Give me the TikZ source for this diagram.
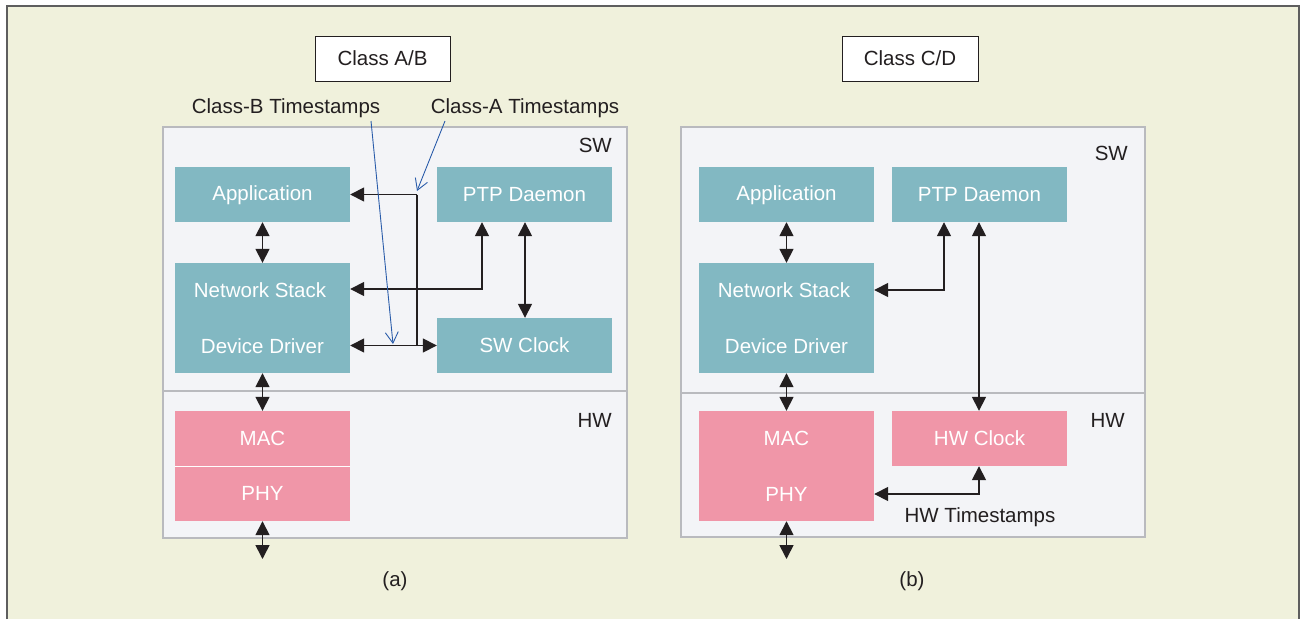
\documentclass[tikz,border=0pt]{standalone}
\usepackage{fontspec}
\setmainfont{Liberation Sans}
\usetikzlibrary{arrows.meta}
\definecolor{bgc}{HTML}{F0F1DC}
\definecolor{framec}{HTML}{5E5E5E}
\definecolor{panelc}{HTML}{F3F4F7}
\definecolor{panelb}{HTML}{B9BABE}
\definecolor{tealc}{HTML}{82B8C2}
\definecolor{pinkc}{HTML}{F096A8}
\definecolor{linec}{HTML}{231F20}
\definecolor{bluec}{HTML}{2A5CAA}
\tikzset{
  txt/.style={font=\fontsize{20.5}{24}\selectfont, text=linec, inner sep=0pt},
  wtxt/.style={font=\fontsize{20.5}{24}\selectfont, text=white, inner sep=0pt},
  panel/.style={draw=panelb, line width=1.6pt, fill=panelc},
  sbox/.style={fill=tealc, draw=none, inner sep=0pt},
  hbox/.style={fill=pinkc, draw=none, inner sep=0pt},
  classbox/.style={draw=linec, line width=1pt, fill=white, inner sep=0pt},
  tip/.tip={Triangle[length=14pt,width=14pt]},
  arr/.style={draw=linec, line width=1.6pt, arrows={tip-tip}},
  arrr/.style={draw=linec, line width=1.6pt, arrows={-tip}},
  plain/.style={draw=linec, line width=1.6pt},
  barrow/.style={draw=bluec, line width=0.9pt, arrows={-Straight Barb[length=11pt,width=13pt]}},
}
\begin{document}
\begin{tikzpicture}[x=1pt,y=-1pt]
\useasboundingbox (0,0) rectangle (1302,619);
% outer frame
\fill[white] (0,0) rectangle (1302,619);
\fill[bgc] (7,6) rectangle (1299,619);
\draw[framec, line width=2pt] (7,619) -- (7,6) -- (1299,6) -- (1299,619);

% ---------------- panel (a) ----------------
\draw[panel] (163,127) rectangle (627,391);
\draw[panel] (163,391) rectangle (627,538);
\node[txt, anchor=east] (swa) at (612,145) {SW};
\node[txt, anchor=east] (hwa) at (612,420) {HW};

\node[classbox, minimum width=135pt, minimum height=45pt] (clab) at (382.5,58.5) {};
\node[txt] (clabt) at (clab.center) {Class A/B};

\node[sbox, minimum width=175pt, minimum height=55pt] (appa) at (262.5,194.5) {};
\node[wtxt] (appat) at (262.5,195.5) {Application};
\node[sbox, minimum width=175pt, minimum height=55pt] (ptpa) at (524.5,194.5) {};
\node[wtxt] (ptpat) at (ptpa.center) {PTP Daemon};
\node[sbox, minimum width=175pt, minimum height=110pt] (nsa) at (262.5,318) {};
\node[wtxt] (nsat) at (260,290) {Network Stack};
\node[wtxt] (ddat) at (262.5,346) {Device Driver};
\node[sbox, minimum width=175pt, minimum height=55pt] (clka) at (524.5,345.5) {};
\node[wtxt] (clkat) at (clka.center) {SW Clock};
\node[hbox, minimum width=175pt, minimum height=55pt] (maca) at (262.5,438.5) {};
\node[wtxt] (macat) at (maca.center) {MAC};
\node[hbox, minimum width=175pt, minimum height=55pt] (phya) at (262.5,493.5) {};
\node[wtxt] (phyat) at (phya.center) {PHY};
\draw[white, line width=1pt] (maca.south west) -- (maca.south east);
\coordinate (outa) at (262.5,559);

\draw[arr] (appa.south) -- (nsa.north);
\draw[arr] (nsa.south) -- (maca.north);
\draw[arr] (phya.south) -- (outa);
\draw[arr] (ptpa.south -| 525,0) -- (clka.north -| 525,0);
\draw[arr] (ptpa.south -| 482,0) |- (nsa.east |- 0,289);
\coordinate (ja) at (417,194.5);
\coordinate (jb) at (417,345.5);
\draw[arrr] (ja) -- (appa.east);
\draw[plain] (ja) -- (jb);
\draw[arr] (nsa.east |- clka.west) -- (clka.west);

\node[txt] (cbt) at (286,108) {Class-B Timestamps};
\node[txt] (catt) at (525,108) {Class-A Timestamps};
\coordinate (cbs) at (371,121);
\coordinate (cbe) at (393,344);
\coordinate (cas) at (445,121);
\coordinate (cae) at (417,191);
\draw[barrow] (cbs) -- (cbe);
\draw[barrow] (cas) -- (cae);

\node[txt] (la) at (395,581) {(a)};

% ---------------- panel (b) ----------------
\draw[panel] (681,127) rectangle (1145,393);
\draw[panel] (681,393) rectangle (1145,537);
\node[txt, anchor=east] (swb) at (1128,153) {SW};
\node[txt, anchor=east] (hwb) at (1125,420) {HW};

\node[classbox, minimum width=136pt, minimum height=45pt] (clcd) at (910,58.5) {};
\node[txt] (clcdt) at (clcd.center) {Class C/D};

\node[sbox, minimum width=175pt, minimum height=55pt] (appb) at (786.5,194.5) {};
\node[wtxt] (appbt) at (786.5,195.5) {Application};
\node[sbox, minimum width=175pt, minimum height=55pt] (ptpb) at (979.5,194.5) {};
\node[wtxt] (ptpbt) at (ptpb.center) {PTP Daemon};
\node[sbox, minimum width=175pt, minimum height=110pt] (nsb) at (786.5,318) {};
\node[wtxt] (nsbt) at (784,290) {Network Stack};
\node[wtxt] (ddbt) at (786.5,346) {Device Driver};
\node[hbox, minimum width=175pt, minimum height=110pt] (macb) at (786.5,466) {};
\node[wtxt] (macbt) at (786.5,438) {MAC};
\node[wtxt] (phybt) at (786.5,494) {PHY};
\node[hbox, minimum width=175pt, minimum height=55pt] (hwc) at (979.5,438.5) {};
\node[wtxt] (hwct) at (hwc.center) {HW Clock};
\coordinate (outb) at (786.5,559);

\draw[arr] (appb.south) -- (nsb.north);
\draw[arr] (nsb.south) -- (macb.north);
\draw[arr] (macb.south) -- (outb);
\draw[arr] (ptpb.south -| 944,0) |- (nsb.east |- 0,290);
\draw[arr] (ptpb.south -| 979,0) -- (hwc.north -| 979,0);
\draw[arr] (hwc.south -| 979,0) |- (macb.east |- 0,494);
\node[txt] (hwts) at (980,517) {HW Timestamps};

\node[txt] (lb) at (912,581) {(b)};
\end{tikzpicture}
\end{document}
